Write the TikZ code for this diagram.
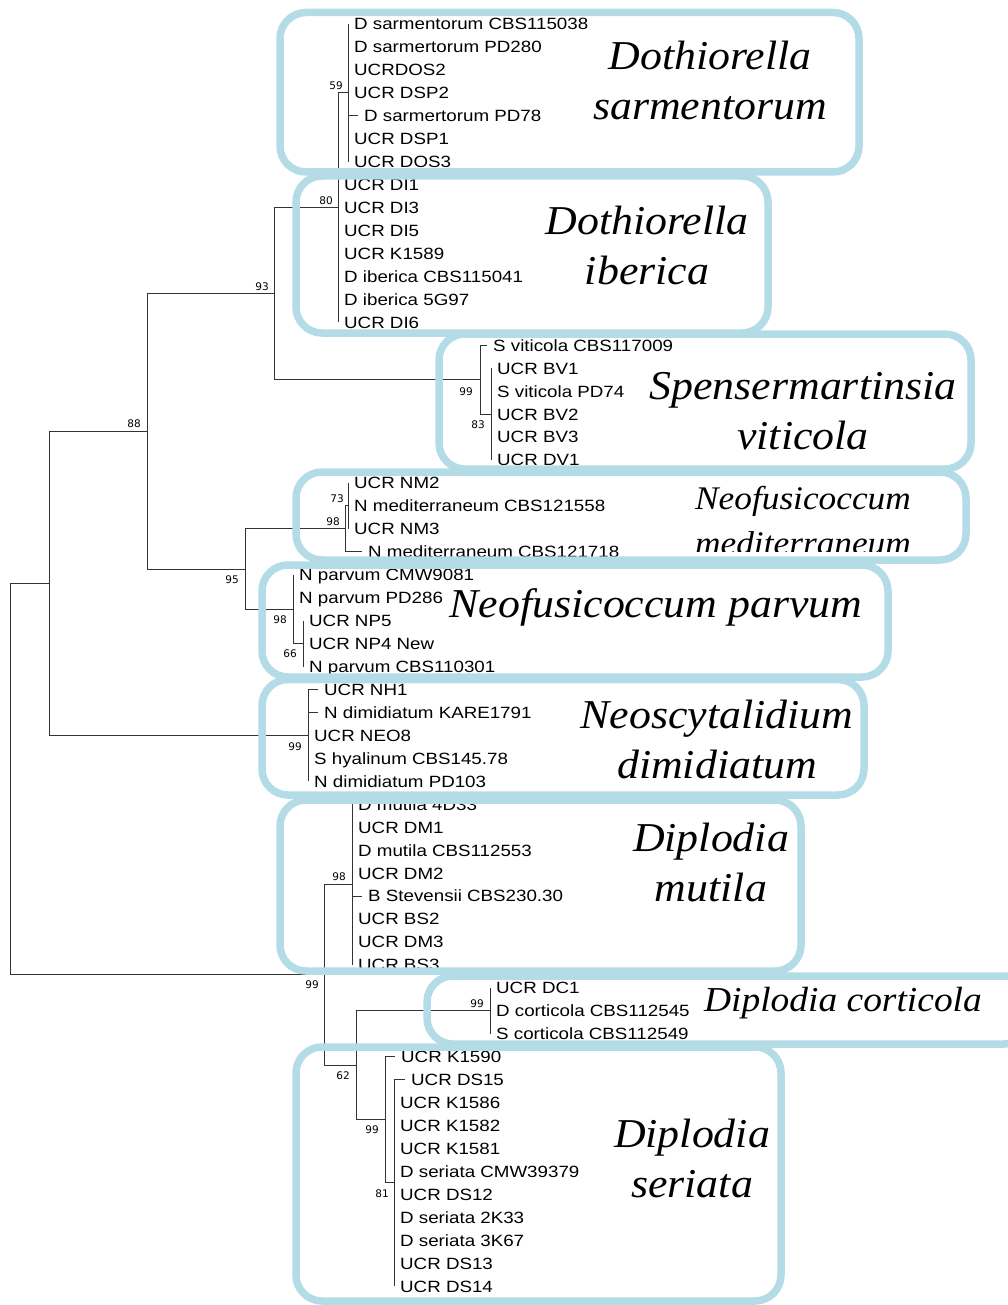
\documentclass[tikz,border=0pt]{standalone}
\usepackage{fontspec}
\setmainfont{Liberation Sans}
\newfontfamily\taxfont[FakeStretch=1.15]{Liberation Sans}
\newfontfamily\cladefont[FakeStretch=1.07]{Liberation Serif}
\newfontfamily\bootfont{DejaVu Sans}
\definecolor{boxblue}{HTML}{B4DCE6}
\definecolor{branchgray}{HTML}{333333}

\tikzset{
  branch/.style={line width=1pt, branchgray},
  taxon/.style={anchor=west, inner xsep=6pt, inner ysep=0pt, text height=11.7pt, text depth=0pt,
    font=\taxfont\fontsize{16.3}{18}\selectfont},
  boot/.style={inner sep=0pt, font=\bootfont\fontsize{10.5}{12}\selectfont},
  cladebox/.style={draw=boxblue, line width=7.5pt, rounded corners=26pt},
  cladename/.style={anchor=base, align=center, inner sep=0pt,
    font=\cladefont\itshape\fontsize{41}{50}\selectfont},
}

\begin{document}
\begin{tikzpicture}[x=1pt, y=-1pt]
  \useasboundingbox (0,0) rectangle (1008,1305);
  \clip (0,0) rectangle (1008,1305);

  % ---------- taxa (one row every 22.95 units) ----------
  \pgfmathsetmacro{\ytop}{24}
  \pgfmathsetmacro{\dy}{22.95}
  \foreach \xe/\lab [count=\i from 0] in {
      348/D sarmentorum CBS115038, 348/D sarmertorum PD280, 348/UCRDOS2,
      348/UCR DSP2, 358/D sarmertorum PD78, 348/UCR DSP1, 348/UCR DOS3,
      338/UCR DI1, 338/UCR DI3, 338/UCR DI5, 338/UCR K1589,
      338/D iberica CBS115041, 338/D iberica 5G97, 338/UCR DI6,
      487/S viticola CBS117009, 491/UCR BV1, 491/S viticola PD74,
      491/UCR BV2, 491/UCR BV3, 491/UCR DV1,
      348/UCR NM2, 348/N mediterraneum CBS121558, 348/UCR NM3,
      362/N mediterraneum CBS121718,
      293/N parvum CMW9081, 293/N parvum PD286, 303/UCR NP5,
      303/UCR NP4 New, 303/N parvum CBS110301,
      318/UCR NH1, 318/N dimidiatum KARE1791, 308/UCR NEO8,
      308/S hyalinum CBS145.78, 308/N dimidiatum PD103,
      352/D mutila 4D33, 352/UCR DM1, 352/D mutila CBS112553, 352/UCR DM2,
      362/B Stevensii CBS230.30, 352/UCR BS2, 352/UCR DM3, 352/UCR BS3,
      490/UCR DC1, 490/D corticola CBS112545, 490/S corticola CBS112549,
      395/UCR K1590, 405/UCR DS15, 394/UCR K1586, 394/UCR K1582,
      394/UCR K1581, 394/D seriata CMW39379, 394/UCR DS12,
      394/D seriata 2K33, 394/D seriata 3K67, 394/UCR DS13, 394/UCR DS14} {
    \node[taxon] (t\i) at (\xe, {\ytop+\dy*\i}) {\lab};
  }

  % ---------- internal nodes: (x of the node, y of its stem) ----------
  \coordinate (root) at (10, 779.2);
  \coordinate (nA)   at (49, 583.4);
  \coordinate (n88)  at (147, 431.35);
  \coordinate (n93)  at (274, 293.65);
  \coordinate (n80)  at (338, 207.6);
  \coordinate (n59)  at (348, 92.85);
  \coordinate (n99v) at (480, 379.7);
  \coordinate (n83)  at (491, 414.15);
  \coordinate (n95)  at (245, 569.05);
  \coordinate (n98m) at (345, 528.9);
  \coordinate (n73)  at (348, 505.95);
  \coordinate (n98p) at (293, 609.2);
  \coordinate (n66)  at (303, 643.65);
  \coordinate (n99n) at (308, 735.45);
  \coordinate (n99r) at (324, 974.98);
  \coordinate (n98d) at (352, 884.6);
  \coordinate (n62)  at (356, 1065.35);
  \coordinate (n99c) at (490, 1010.85);
  \coordinate (n99s) at (385, 1119.86);
  \coordinate (n81)  at (394, 1182.98);

  % branches between internal nodes
  \foreach \p/\c in {root/nA, root/n99r, nA/n88, nA/n99n, n88/n93, n88/n95,
      n93/n80, n93/n99v, n80/n59, n99v/n83, n95/n98m, n95/n98p,
      n98m/n73, n98p/n66, n99r/n98d, n99r/n62, n62/n99c, n62/n99s, n99s/n81} {
    \draw[branch] (\p) |- (\c);
  }
  % branches to the taxa
  \foreach \p/\a/\b in {n59/0/6, n80/7/13, n83/15/19, n73/20/22, n66/26/28,
      n99n/29/33, n98d/34/41, n99c/42/44, n81/46/55} {
    \foreach \i in {\a,...,\b}
      \draw[branch] (\p) |- (t\i.west);
  }
  \foreach \p/\i in {n99v/14, n98m/23, n98p/24, n98p/25, n99s/45} {
    \draw[branch] (\p) |- (t\i.west);
  }

  % bootstrap values
  \node[boot] (b59)  at (336,86)   {59};
  \node[boot] (b80)  at (326,201)  {80};
  \node[boot] (b93)  at (262,287)  {93};
  \node[boot] (b88)  at (134,424)  {88};
  \node[boot] (b99v) at (466,392)  {99};
  \node[boot] (b83)  at (478,425)  {83};
  \node[boot] (b73)  at (337,499)  {73};
  \node[boot] (b98m) at (333,522)  {98};
  \node[boot] (b95)  at (232,580)  {95};
  \node[boot] (b98p) at (280,620)  {98};
  \node[boot] (b66)  at (290,654)  {66};
  \node[boot] (b99n) at (295,747)  {99};
  \node[boot] (b98d) at (339,877)  {98};
  \node[boot] (b99r) at (312,985)  {99};
  \node[boot] (b99c) at (477,1004) {99};
  \node[boot] (b62)  at (343,1076) {62};
  \node[boot] (b99s) at (372,1130) {99};
  \node[boot] (b81)  at (382,1194) {81};

  % ---------- species names (base = baseline of the last line) ----------
  \node[cladename] (sarm) at (710,120)  {Dothiorella\\sarmentorum};
  \node[cladename] (iber) at (647,285)  {Dothiorella\\iberica};
  \node[cladename] (viti) at (803,449)  {Spensermartinsia\\viticola};
  \begin{scope}
    \clip (600,470) rectangle (960,551);
    \node[cladename, font=\cladefont\itshape\fontsize{33}{45}\selectfont] (medi) at (803,554)
      {Neofusicoccum\\mediterraneum};
  \end{scope}
  \node[cladename] (parv) at (656,617)  {Neofusicoccum parvum};
  \node[cladename] (dimi) at (717,778)  {Neoscytalidium\\dimidiatum};
  \node[cladename] (muti) at (711,901)  {Diplodia\\mutila};
  \node[cladename, font=\cladefont\itshape\fontsize{35}{40}\selectfont] (cort) at (843,1011)
    {Diplodia corticola};
  \node[cladename] (seri) at (692,1197) {Diplodia\\seriata};

  % ---------- clade frames ----------
  \draw[cladebox] (280,12.5) rectangle (859,172);
  \draw[cladebox] (296,176) rectangle (768,333);
  \draw[cladebox] (439,334) rectangle (971,469);
  \draw[cladebox] (296,472) rectangle (966,560);
  \draw[cladebox] (262,565) rectangle (888,677);
  \draw[cladebox] (262,679.5) rectangle (864,795);
  \draw[cladebox] (280,800) rectangle (801,971);
  \draw[cladebox] (427,976) rectangle (1030,1044);
  \draw[cladebox] (296,1047) rectangle (781,1301);
\end{tikzpicture}
\end{document}
